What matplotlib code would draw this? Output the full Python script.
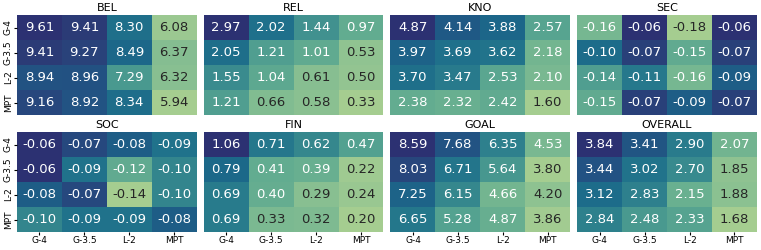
import numpy as np
import matplotlib
matplotlib.use("Agg")
import matplotlib.pyplot as plt
import seaborn as sns

# methods / labels
labels = ["G-4", "G-3.5", "L-2", "MPT"]
titles = ["BEL", "REL", "KNO", "SEC", "SOC", "FIN", "GOAL", "OVERALL"]

# values (rows = y labels, cols = x labels)
bel = [[9.61, 9.41, 8.30, 6.08],
       [9.41, 9.27, 8.49, 6.37],
       [8.94, 8.96, 7.29, 6.32],
       [9.16, 8.92, 8.34, 5.94]]
rel = [[2.97, 2.02, 1.44, 0.97],
       [2.05, 1.21, 1.01, 0.53],
       [1.55, 1.04, 0.61, 0.50],
       [1.21, 0.66, 0.58, 0.33]]
kno = [[4.87, 4.14, 3.88, 2.57],
       [3.97, 3.69, 3.62, 2.18],
       [3.70, 3.47, 2.53, 2.10],
       [2.38, 2.32, 2.42, 1.60]]
sec = [[-0.16, -0.06, -0.18, -0.06],
       [-0.10, -0.07, -0.15, -0.07],
       [-0.14, -0.11, -0.16, -0.09],
       [-0.15, -0.07, -0.09, -0.07]]
soc = [[-0.06, -0.07, -0.08, -0.09],
       [-0.06, -0.09, -0.12, -0.10],
       [-0.08, -0.07, -0.14, -0.10],
       [-0.10, -0.09, -0.09, -0.08]]
fin = [[1.06, 0.71, 0.62, 0.47],
       [0.79, 0.41, 0.39, 0.22],
       [0.69, 0.40, 0.29, 0.24],
       [0.69, 0.33, 0.32, 0.20]]
goal = [[8.59, 7.68, 6.35, 4.53],
        [8.03, 6.71, 5.64, 3.80],
        [7.25, 6.15, 4.66, 4.20],
        [6.65, 5.28, 4.87, 3.86]]
overall = [[3.84, 3.41, 2.90, 2.07],
           [3.44, 3.02, 2.70, 1.85],
           [3.12, 2.83, 2.15, 1.88],
           [2.84, 2.48, 2.33, 1.68]]

data = [bel, rel, kno, sec, soc, fin, goal, overall]

fig, axes = plt.subplots(2, 4, figsize=(7.61, 2.5), dpi=100)
plt.subplots_adjust(left=0.0223, right=0.9947, top=0.94, bottom=0.072,
                    wspace=0.039, hspace=0.17)

for i, ax in enumerate(axes.flat):
    sns.heatmap(np.array(data[i]), ax=ax, cmap="crest", annot=True, fmt=".2f",
                cbar=False, annot_kws={"fontsize": 9.5},
                xticklabels=labels, yticklabels=labels)
    ax.set_title(titles[i], fontsize=8, pad=3)
    ax.tick_params(labelsize=6.5, length=2, pad=1)
    if i % 4 != 0:
        ax.set_yticks([])
    else:
        ax.set_yticklabels(labels, rotation=90, va="center")
    if i < 4:
        ax.set_xticks([])
    else:
        ax.set_xticklabels(labels, rotation=0)

plt.savefig("out.png", dpi=100)
